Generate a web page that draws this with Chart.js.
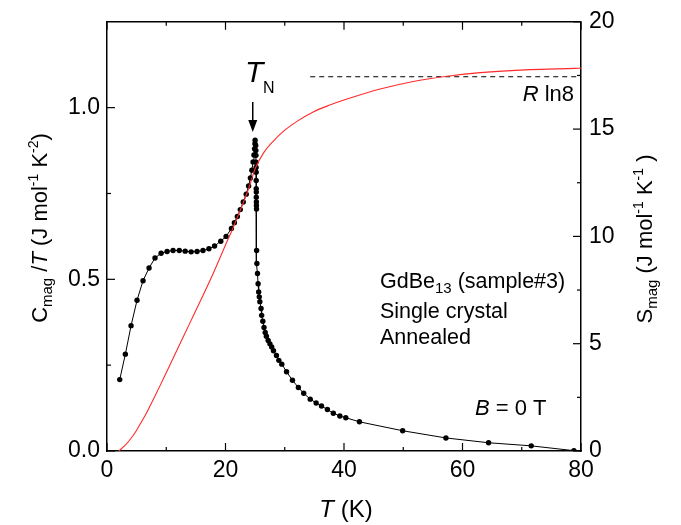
<!DOCTYPE html>
<html>
<head>
<meta charset="utf-8">
<script src="https://cdn.jsdelivr.net/npm/chart.js@4/dist/chart.umd.min.js"></script>
<style>
html,body{margin:0;padding:0;background:#fff;}
#wrap{width:681px;height:525px;}
</style>
</head>
<body>
<div id="wrap"><canvas id="c" width="681" height="525"></canvas></div>
<script>
// ---- data ----
const tempC = [2.15,3.1,4.06,5.07,6.08,7.1,8.1,9.13,10.14,11.15,12.2,13.2,14.2,15.2,16.2,17.2,18.15,19.2,20.1,
  21.0,21.5,22.0,22.5,23.0,23.5,23.9,24.2,24.45,24.65,24.8,24.9,24.97,25.0,
  25.1,25.12,25.14,25.15,25.16,25.17,25.18,25.19,25.2,25.2,25.21,25.22,25.23,
  25.25,25.3,25.4,25.5,25.6,25.7,25.8,26.0,26.1,26.3,26.5,26.7,26.9,27.2,27.5,27.8,28.1,28.6,29.0,29.5,
  30.3,31.3,32.3,33.2,34.3,35.3,36.2,37.2,38.2,39.3,40.3,42.6,49.9,57.2,64.4,71.6,78.8];
const cOverT = [0.208,0.282,0.365,0.439,0.496,0.533,0.562,0.576,0.581,0.584,0.584,0.582,0.580,0.581,0.584,0.589,0.597,0.611,0.625,
  0.648,0.665,0.683,0.703,0.725,0.748,0.772,0.795,0.818,0.842,0.862,0.880,0.895,0.905,
  0.890,0.875,0.861,0.841,0.826,0.812,0.788,0.764,0.754,0.739,0.725,0.715,0.705,
  0.584,0.546,0.517,0.487,0.463,0.449,0.435,0.415,0.395,0.378,0.360,0.345,0.334,0.322,0.312,0.303,0.292,0.278,0.264,0.253,
  0.231,0.206,0.185,0.168,0.151,0.140,0.131,0.121,0.110,0.102,0.097,0.085,0.059,0.038,0.024,0.015,0.001];
const tempS = [2.0,3,4,5,6,7,8,9,10,12,14,16,18,20,21,22,23,24,25,26.4,28,30,32,34.8,37.6,40.5,46.1,51.7,57.4,63,71.4,79,80];
const entropy = [0,0.25,0.57,0.97,1.44,1.95,2.5,3.07,3.65,4.81,5.97,7.13,8.32,9.6,10.22,10.88,11.57,12.3,13.15,13.88,14.42,14.95,15.35,15.8,16.12,16.4,16.87,17.22,17.46,17.63,17.77,17.83,17.84];
const rln8T = [34.3, 80];
const rln8S = [17.44, 17.44];
const xTicks = [0,20,40,60,80];
const xMinor = [10,30,50,70];
const yTicks = [0,0.5,1.0];
const yMinor = [0.25,0.75];
const y2Ticks = [0,5,10,15,20];
const y2Minor = [2.5,7.5,12.5,17.5];

const FF = "'Liberation Sans', Arial, sans-serif";

function rich(ctx, segs, x, y, align) {
  let w = 0;
  segs.forEach(s => { ctx.font = s.f + ' ' + FF; w += ctx.measureText(s.t).width; });
  let cx = align === 'center' ? x - w/2 : (align === 'right' ? x - w : x);
  ctx.textAlign = 'left';
  ctx.textBaseline = 'alphabetic';
  segs.forEach(s => {
    ctx.font = s.f + ' ' + FF;
    ctx.fillText(s.t, cx, y + (s.dy || 0));
    cx += ctx.measureText(s.t).width;
  });
}

const deco = {
  id: 'deco',
  afterDraw(chart) {
    const ctx = chart.ctx;
    const a = chart.chartArea;
    const sx = chart.scales.x, sy = chart.scales.y, sy2 = chart.scales.y2;
    ctx.save();
    ctx.strokeStyle = '#000';
    ctx.fillStyle = '#000';
    ctx.lineWidth = 1.5;
    ctx.beginPath(); ctx.moveTo(a.left, a.top); ctx.lineTo(a.right, a.top); ctx.stroke();
    ctx.lineWidth = 1.2;
    const tick = (x1,y1,x2,y2) => { ctx.beginPath(); ctx.moveTo(x1,y1); ctx.lineTo(x2,y2); ctx.stroke(); };
    xTicks.forEach(v => { const p = sx.getPixelForValue(v); tick(p,a.bottom,p,a.bottom-8); tick(p,a.top,p,a.top+8); });
    xMinor.forEach(v => { const p = sx.getPixelForValue(v); tick(p,a.bottom,p,a.bottom-4); tick(p,a.top,p,a.top+4); });
    yTicks.forEach(v => { const p = sy.getPixelForValue(v); tick(a.left,p,a.left+8,p); });
    yMinor.forEach(v => { const p = sy.getPixelForValue(v); tick(a.left,p,a.left+4,p); });
    y2Ticks.forEach(v => { const p = sy2.getPixelForValue(v); tick(a.right,p,a.right-8,p); });
    y2Minor.forEach(v => { const p = sy2.getPixelForValue(v); tick(a.right,p,a.right-4,p); });

    ctx.save();
    ctx.translate(47, 228); ctx.rotate(-Math.PI/2);
    rich(ctx, [{t:'C',f:'22px'},{t:'mag',f:'15px',dy:5},{t:' /',f:'22px'},{t:'T',f:'italic 22px'},
      {t:' (J mol',f:'22px'},{t:'-1',f:'14px',dy:-9},{t:' K',f:'22px'},{t:'-2',f:'14px',dy:-9},{t:')',f:'22px'}], 0, 0, 'center');
    ctx.restore();
    ctx.save();
    ctx.translate(652, 239); ctx.rotate(-Math.PI/2);
    rich(ctx, [{t:'S',f:'22px'},{t:'mag',f:'15px',dy:5},
      {t:' (J mol',f:'22px'},{t:'-1',f:'14px',dy:-9},{t:' K',f:'22px'},{t:'-1',f:'14px',dy:-9},{t:' )',f:'22px'}], 0, 0, 'center');
    ctx.restore();
    rich(ctx, [{t:'T',f:'italic 24px'},{t:' (K)',f:'24px'}], 346, 517, 'center');

    rich(ctx, [{t:'T',f:'italic 30px'}], 245, 82, 'left');
    rich(ctx, [{t:'N',f:'16px'}], 263, 93, 'left');
    const ax = sx.getPixelForValue(24.6);
    ctx.lineWidth = 1.5;
    tick(ax, 102, ax, 126);
    ctx.beginPath(); ctx.moveTo(ax-4.5, 120); ctx.lineTo(ax, 132); ctx.lineTo(ax+4.5, 120); ctx.closePath(); ctx.fill();

    rich(ctx, [{t:'R',f:'italic 22px'},{t:' ln8',f:'22px'}], 574, 101, 'right');
    rich(ctx, [{t:'GdBe',f:'21.5px'},{t:'13',f:'15px',dy:5},{t:' (sample#3)',f:'21.5px'}], 380, 288, 'left');
    rich(ctx, [{t:'Single crystal',f:'21.5px'}], 380, 318, 'left');
    rich(ctx, [{t:'Annealed',f:'21.5px'}], 380, 344, 'left');
    rich(ctx, [{t:'B',f:'italic 22px'},{t:' = 0 T',f:'22px'}], 475, 415, 'left');
    ctx.restore();
  }
};

const fitW = w => function(s){ s.width = w; };

new Chart(document.getElementById('c'), {
  type: 'line',
  data: {
    datasets: [
      { label: 'S', data: tempS.map((t,i)=>({x:t,y:entropy[i]})), yAxisID: 'y2',
        borderColor: '#ff2a2a', borderWidth: 1.1, pointRadius: 0, cubicInterpolationMode: 'monotone', order: 0 },
      { label: 'Rln8', data: rln8T.map((t,i)=>({x:t,y:rln8S[i]})), yAxisID: 'y2',
        borderColor: '#000', borderWidth: 1, borderDash: [5,4], pointRadius: 0, order: 2 },
      { label: 'C/T', data: tempC.map((t,i)=>({x:t,y:cOverT[i]})), yAxisID: 'y',
        borderColor: '#000', borderWidth: 1, pointRadius: 2.7, pointBackgroundColor: '#000', pointBorderWidth: 0,
        tension: 0, order: 1 }
    ]
  },
  options: {
    responsive: false, animation: false, devicePixelRatio: 1,
    layout: { padding: { top: 21, left: 0, right: 0, bottom: 0 } },
    plugins: { legend: { display: false }, tooltip: { enabled: false } },
    scales: {
      x: { type: 'linear', position: 'bottom', min: 0, max: 80,
        afterBuildTicks: s => { s.ticks = xTicks.map(v=>({value:v})); },
        afterFit: s => { s.height = 74; },
        ticks: { color: '#000', font: { family: FF, size: 23 }, padding: 6, maxRotation: 0, callback: v => String(v) },
        grid: { display: false, drawTicks: false },
        border: { display: true, color: '#000', width: 1.5 } },
      y: { type: 'linear', position: 'left', min: 0, max: 1.25,
        afterBuildTicks: s => { s.ticks = yTicks.map(v=>({value:v})); },
        afterFit: fitW(107),
        ticks: { color: '#000', font: { family: FF, size: 23 }, padding: 7, callback: v => v.toFixed(1) },
        grid: { display: false, drawTicks: false },
        border: { display: true, color: '#000', width: 1.5 } },
      y2: { type: 'linear', position: 'right', min: 0, max: 20,
        afterBuildTicks: s => { s.ticks = y2Ticks.map(v=>({value:v})); },
        afterFit: fitW(100),
        ticks: { color: '#000', font: { family: FF, size: 23 }, padding: 8, callback: v => String(v) },
        grid: { display: false, drawTicks: false },
        border: { display: true, color: '#000', width: 1.5 } }
    }
  },
  plugins: [deco]
});
</script>
</body>
</html>
